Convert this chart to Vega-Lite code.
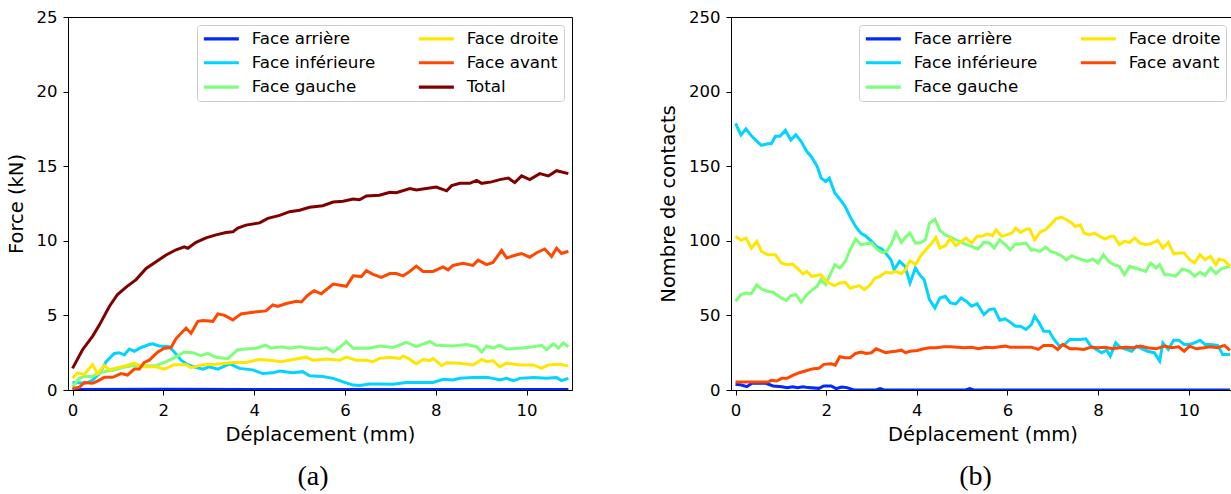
{
"$schema":"https://vega.github.io/schema/vega-lite/v6.json",
"padding":{"left":5,"top":8,"right":0,"bottom":0},
"spacing":85,
"resolve":{"scale":{"color":"independent"},"legend":{"color":"independent"}},
"config":{
 "font":"DejaVu Sans",
 "view":{"stroke":"black","strokeWidth":1},
 "axis":{"grid":false,"domainColor":"black","tickColor":"black","labelColor":"black","titleColor":"black","labelFont":"DejaVu Sans","titleFont":"DejaVu Sans","labelFontSize":16.5,"titleFontSize":19.5,"titleFontWeight":"normal","tickSize":5,"labelPadding":6},
 "axisX":{"labelPadding":7,"titlePadding":7},
 "axisY":{"titlePadding":10},
 "legend":{"orient":"top-right","offset":8,"columns":2,"labelFont":"DejaVu Sans","labelFontSize":16.7,"labelColor":"black","symbolType":"M-3.5,0H3.5","symbolSize":100,"symbolStrokeWidth":3.2,"symbolOffset":11,"strokeColor":"#cccccc","fillColor":"rgba(255,255,255,0.8)","cornerRadius":3,"padding":5,"rowPadding":6.4,"columnPadding":36,"labelOffset":22},
 "title":{"font":"Liberation Serif","fontSize":28,"fontWeight":"normal","color":"black","orient":"bottom","anchor":"middle","offset":19,"dx":-7}
},
"datasets":{
"force":[
{"s":"Face arrière","x":0,"y":0.03},{"s":"Face arrière","x":2,"y":0.05},{"s":"Face arrière","x":4,"y":0.03},{"s":"Face arrière","x":6,"y":0.03},{"s":"Face arrière","x":8,"y":0.03},{"s":"Face arrière","x":10.92,"y":0.03},
{"s":"Face inférieure","x":0,"y":0.5},{"s":"Face inférieure","x":0.29,"y":0.45},{"s":"Face inférieure","x":0.44,"y":0.65},{"s":"Face inférieure","x":0.59,"y":1.1},{"s":"Face inférieure","x":0.74,"y":1.9},{"s":"Face inférieure","x":0.92,"y":2.45},{"s":"Face inférieure","x":1.03,"y":2.5},{"s":"Face inférieure","x":1.14,"y":2.35},{"s":"Face inférieure","x":1.25,"y":2.75},{"s":"Face inférieure","x":1.36,"y":2.6},{"s":"Face inférieure","x":1.51,"y":2.85},{"s":"Face inférieure","x":1.69,"y":3.05},{"s":"Face inférieure","x":1.76,"y":3.1},{"s":"Face inférieure","x":1.91,"y":2.95},{"s":"Face inférieure","x":2.13,"y":2.9},{"s":"Face inférieure","x":2.24,"y":2.55},{"s":"Face inférieure","x":2.39,"y":2.0},{"s":"Face inférieure","x":2.54,"y":1.7},{"s":"Face inférieure","x":2.68,"y":1.55},{"s":"Face inférieure","x":2.87,"y":1.4},{"s":"Face inférieure","x":3.01,"y":1.55},{"s":"Face inférieure","x":3.2,"y":1.4},{"s":"Face inférieure","x":3.31,"y":1.55},{"s":"Face inférieure","x":3.46,"y":1.75},{"s":"Face inférieure","x":3.68,"y":1.45},{"s":"Face inférieure","x":3.97,"y":1.35},{"s":"Face inférieure","x":4.19,"y":1.1},{"s":"Face inférieure","x":4.41,"y":1.15},{"s":"Face inférieure","x":4.56,"y":1.27},{"s":"Face inférieure","x":4.85,"y":1.15},{"s":"Face inférieure","x":5.07,"y":1.23},{"s":"Face inférieure","x":5.22,"y":0.95},{"s":"Face inférieure","x":5.51,"y":0.9},{"s":"Face inférieure","x":5.74,"y":0.78},{"s":"Face inférieure","x":5.96,"y":0.55},{"s":"Face inférieure","x":6.18,"y":0.33},{"s":"Face inférieure","x":6.32,"y":0.3},{"s":"Face inférieure","x":6.54,"y":0.4},{"s":"Face inférieure","x":6.76,"y":0.4},{"s":"Face inférieure","x":7.06,"y":0.38},{"s":"Face inférieure","x":7.35,"y":0.5},{"s":"Face inférieure","x":7.65,"y":0.5},{"s":"Face inférieure","x":7.94,"y":0.5},{"s":"Face inférieure","x":8.16,"y":0.72},{"s":"Face inférieure","x":8.38,"y":0.67},{"s":"Face inférieure","x":8.53,"y":0.78},{"s":"Face inférieure","x":8.82,"y":0.83},{"s":"Face inférieure","x":9.12,"y":0.85},{"s":"Face inférieure","x":9.26,"y":0.78},{"s":"Face inférieure","x":9.41,"y":0.67},{"s":"Face inférieure","x":9.56,"y":0.78},{"s":"Face inférieure","x":9.71,"y":0.63},{"s":"Face inférieure","x":9.85,"y":0.78},{"s":"Face inférieure","x":10.15,"y":0.83},{"s":"Face inférieure","x":10.44,"y":0.78},{"s":"Face inférieure","x":10.66,"y":0.83},{"s":"Face inférieure","x":10.77,"y":0.63},{"s":"Face inférieure","x":10.92,"y":0.78},
{"s":"Face gauche","x":0,"y":0.2},{"s":"Face gauche","x":0.15,"y":0.8},{"s":"Face gauche","x":0.26,"y":0.9},{"s":"Face gauche","x":0.44,"y":0.9},{"s":"Face gauche","x":0.55,"y":1.1},{"s":"Face gauche","x":0.74,"y":1.25},{"s":"Face gauche","x":0.88,"y":1.3},{"s":"Face gauche","x":1.1,"y":1.5},{"s":"Face gauche","x":1.32,"y":1.63},{"s":"Face gauche","x":1.62,"y":1.63},{"s":"Face gauche","x":1.84,"y":1.63},{"s":"Face gauche","x":2.06,"y":1.9},{"s":"Face gauche","x":2.24,"y":2.15},{"s":"Face gauche","x":2.46,"y":2.55},{"s":"Face gauche","x":2.65,"y":2.5},{"s":"Face gauche","x":2.83,"y":2.3},{"s":"Face gauche","x":2.98,"y":2.45},{"s":"Face gauche","x":3.16,"y":2.2},{"s":"Face gauche","x":3.42,"y":2.1},{"s":"Face gauche","x":3.64,"y":2.7},{"s":"Face gauche","x":3.82,"y":2.75},{"s":"Face gauche","x":4.04,"y":2.8},{"s":"Face gauche","x":4.26,"y":3.0},{"s":"Face gauche","x":4.37,"y":2.8},{"s":"Face gauche","x":4.6,"y":2.9},{"s":"Face gauche","x":4.78,"y":2.8},{"s":"Face gauche","x":5.0,"y":2.9},{"s":"Face gauche","x":5.22,"y":2.8},{"s":"Face gauche","x":5.44,"y":2.75},{"s":"Face gauche","x":5.59,"y":2.85},{"s":"Face gauche","x":5.74,"y":2.55},{"s":"Face gauche","x":5.88,"y":2.85},{"s":"Face gauche","x":6.03,"y":3.25},{"s":"Face gauche","x":6.18,"y":2.8},{"s":"Face gauche","x":6.54,"y":2.8},{"s":"Face gauche","x":6.76,"y":2.95},{"s":"Face gauche","x":7.06,"y":2.85},{"s":"Face gauche","x":7.35,"y":3.2},{"s":"Face gauche","x":7.57,"y":2.9},{"s":"Face gauche","x":7.87,"y":3.25},{"s":"Face gauche","x":8.01,"y":3.0},{"s":"Face gauche","x":8.38,"y":2.95},{"s":"Face gauche","x":8.68,"y":3.05},{"s":"Face gauche","x":8.9,"y":2.9},{"s":"Face gauche","x":9.01,"y":2.55},{"s":"Face gauche","x":9.12,"y":2.95},{"s":"Face gauche","x":9.26,"y":2.8},{"s":"Face gauche","x":9.41,"y":3.0},{"s":"Face gauche","x":9.56,"y":2.75},{"s":"Face gauche","x":9.85,"y":2.8},{"s":"Face gauche","x":10.15,"y":2.9},{"s":"Face gauche","x":10.33,"y":3.0},{"s":"Face gauche","x":10.44,"y":2.7},{"s":"Face gauche","x":10.59,"y":3.1},{"s":"Face gauche","x":10.7,"y":2.8},{"s":"Face gauche","x":10.81,"y":3.15},{"s":"Face gauche","x":10.92,"y":2.9},
{"s":"Face droite","x":0,"y":0.8},{"s":"Face droite","x":0.11,"y":1.15},{"s":"Face droite","x":0.26,"y":1.05},{"s":"Face droite","x":0.44,"y":1.7},{"s":"Face droite","x":0.55,"y":1.1},{"s":"Face droite","x":0.7,"y":1.65},{"s":"Face droite","x":0.81,"y":1.35},{"s":"Face droite","x":0.99,"y":1.5},{"s":"Face droite","x":1.18,"y":1.63},{"s":"Face droite","x":1.36,"y":1.8},{"s":"Face droite","x":1.54,"y":1.55},{"s":"Face droite","x":1.84,"y":1.55},{"s":"Face droite","x":2.02,"y":1.4},{"s":"Face droite","x":2.24,"y":1.7},{"s":"Face droite","x":2.5,"y":1.7},{"s":"Face droite","x":2.61,"y":1.5},{"s":"Face droite","x":2.87,"y":1.7},{"s":"Face droite","x":3.16,"y":1.72},{"s":"Face droite","x":3.53,"y":1.85},{"s":"Face droite","x":3.82,"y":1.85},{"s":"Face droite","x":4.12,"y":2.05},{"s":"Face droite","x":4.34,"y":2.0},{"s":"Face droite","x":4.6,"y":1.9},{"s":"Face droite","x":4.85,"y":2.05},{"s":"Face droite","x":5.15,"y":2.2},{"s":"Face droite","x":5.29,"y":2.0},{"s":"Face droite","x":5.59,"y":2.07},{"s":"Face droite","x":5.88,"y":2.0},{"s":"Face droite","x":6.03,"y":2.2},{"s":"Face droite","x":6.25,"y":2.0},{"s":"Face droite","x":6.47,"y":2.0},{"s":"Face droite","x":6.62,"y":1.9},{"s":"Face droite","x":6.76,"y":2.12},{"s":"Face droite","x":6.99,"y":2.2},{"s":"Face droite","x":7.21,"y":2.12},{"s":"Face droite","x":7.28,"y":2.28},{"s":"Face droite","x":7.43,"y":2.05},{"s":"Face droite","x":7.57,"y":1.75},{"s":"Face droite","x":7.72,"y":2.05},{"s":"Face droite","x":7.87,"y":1.97},{"s":"Face droite","x":7.94,"y":2.12},{"s":"Face droite","x":8.13,"y":1.63},{"s":"Face droite","x":8.24,"y":1.83},{"s":"Face droite","x":8.53,"y":1.8},{"s":"Face droite","x":8.82,"y":1.68},{"s":"Face droite","x":9.01,"y":2.05},{"s":"Face droite","x":9.12,"y":1.9},{"s":"Face droite","x":9.26,"y":1.97},{"s":"Face droite","x":9.41,"y":1.55},{"s":"Face droite","x":9.56,"y":1.8},{"s":"Face droite","x":9.85,"y":1.68},{"s":"Face droite","x":10.15,"y":1.68},{"s":"Face droite","x":10.33,"y":1.45},{"s":"Face droite","x":10.48,"y":1.68},{"s":"Face droite","x":10.74,"y":1.72},{"s":"Face droite","x":10.92,"y":1.6},
{"s":"Face avant","x":0,"y":0.1},{"s":"Face avant","x":0.15,"y":0.18},{"s":"Face avant","x":0.26,"y":0.5},{"s":"Face avant","x":0.44,"y":0.45},{"s":"Face avant","x":0.55,"y":0.6},{"s":"Face avant","x":0.7,"y":0.85},{"s":"Face avant","x":0.88,"y":0.85},{"s":"Face avant","x":1.07,"y":1.1},{"s":"Face avant","x":1.21,"y":1.0},{"s":"Face avant","x":1.36,"y":1.4},{"s":"Face avant","x":1.47,"y":1.4},{"s":"Face avant","x":1.58,"y":1.85},{"s":"Face avant","x":1.69,"y":2.0},{"s":"Face avant","x":1.88,"y":2.55},{"s":"Face avant","x":2.02,"y":2.8},{"s":"Face avant","x":2.17,"y":2.85},{"s":"Face avant","x":2.28,"y":3.45},{"s":"Face avant","x":2.5,"y":4.15},{"s":"Face avant","x":2.61,"y":3.8},{"s":"Face avant","x":2.76,"y":4.6},{"s":"Face avant","x":2.87,"y":4.65},{"s":"Face avant","x":3.09,"y":4.6},{"s":"Face avant","x":3.2,"y":5.1},{"s":"Face avant","x":3.35,"y":5.0},{"s":"Face avant","x":3.53,"y":4.7},{"s":"Face avant","x":3.71,"y":5.1},{"s":"Face avant","x":3.93,"y":5.2},{"s":"Face avant","x":4.26,"y":5.3},{"s":"Face avant","x":4.41,"y":5.7},{"s":"Face avant","x":4.52,"y":5.6},{"s":"Face avant","x":4.71,"y":5.8},{"s":"Face avant","x":4.93,"y":5.95},{"s":"Face avant","x":5.04,"y":5.9},{"s":"Face avant","x":5.18,"y":6.35},{"s":"Face avant","x":5.32,"y":6.65},{"s":"Face avant","x":5.48,"y":6.45},{"s":"Face avant","x":5.74,"y":7.1},{"s":"Face avant","x":6.03,"y":6.95},{"s":"Face avant","x":6.18,"y":7.65},{"s":"Face avant","x":6.36,"y":7.6},{"s":"Face avant","x":6.47,"y":8.0},{"s":"Face avant","x":6.62,"y":7.75},{"s":"Face avant","x":6.8,"y":7.55},{"s":"Face avant","x":6.99,"y":7.8},{"s":"Face avant","x":7.13,"y":7.8},{"s":"Face avant","x":7.28,"y":7.65},{"s":"Face avant","x":7.43,"y":7.95},{"s":"Face avant","x":7.57,"y":8.3},{"s":"Face avant","x":7.72,"y":7.95},{"s":"Face avant","x":7.94,"y":7.95},{"s":"Face avant","x":8.16,"y":8.25},{"s":"Face avant","x":8.27,"y":8.05},{"s":"Face avant","x":8.38,"y":8.35},{"s":"Face avant","x":8.6,"y":8.5},{"s":"Face avant","x":8.82,"y":8.35},{"s":"Face avant","x":8.93,"y":8.7},{"s":"Face avant","x":9.12,"y":8.4},{"s":"Face avant","x":9.26,"y":8.55},{"s":"Face avant","x":9.45,"y":9.35},{"s":"Face avant","x":9.56,"y":8.85},{"s":"Face avant","x":9.71,"y":9.0},{"s":"Face avant","x":9.89,"y":9.15},{"s":"Face avant","x":10.07,"y":8.9},{"s":"Face avant","x":10.22,"y":9.2},{"s":"Face avant","x":10.4,"y":9.45},{"s":"Face avant","x":10.55,"y":8.95},{"s":"Face avant","x":10.66,"y":9.5},{"s":"Face avant","x":10.77,"y":9.15},{"s":"Face avant","x":10.92,"y":9.3},
{"s":"Total","x":0,"y":1.45},{"s":"Total","x":0.22,"y":2.7},{"s":"Total","x":0.44,"y":3.6},{"s":"Total","x":0.59,"y":4.35},{"s":"Total","x":0.81,"y":5.6},{"s":"Total","x":0.99,"y":6.4},{"s":"Total","x":1.18,"y":6.9},{"s":"Total","x":1.4,"y":7.4},{"s":"Total","x":1.62,"y":8.15},{"s":"Total","x":1.84,"y":8.6},{"s":"Total","x":2.06,"y":9.05},{"s":"Total","x":2.28,"y":9.4},{"s":"Total","x":2.46,"y":9.6},{"s":"Total","x":2.54,"y":9.5},{"s":"Total","x":2.72,"y":9.9},{"s":"Total","x":2.94,"y":10.2},{"s":"Total","x":3.16,"y":10.4},{"s":"Total","x":3.38,"y":10.55},{"s":"Total","x":3.53,"y":10.6},{"s":"Total","x":3.64,"y":10.85},{"s":"Total","x":3.82,"y":11.05},{"s":"Total","x":4.12,"y":11.2},{"s":"Total","x":4.3,"y":11.5},{"s":"Total","x":4.56,"y":11.7},{"s":"Total","x":4.78,"y":11.95},{"s":"Total","x":5.0,"y":12.05},{"s":"Total","x":5.22,"y":12.25},{"s":"Total","x":5.51,"y":12.35},{"s":"Total","x":5.74,"y":12.6},{"s":"Total","x":5.96,"y":12.65},{"s":"Total","x":6.18,"y":12.8},{"s":"Total","x":6.32,"y":12.75},{"s":"Total","x":6.47,"y":13.0},{"s":"Total","x":6.76,"y":13.05},{"s":"Total","x":6.99,"y":13.25},{"s":"Total","x":7.13,"y":13.22},{"s":"Total","x":7.43,"y":13.5},{"s":"Total","x":7.57,"y":13.4},{"s":"Total","x":7.79,"y":13.5},{"s":"Total","x":8.01,"y":13.6},{"s":"Total","x":8.24,"y":13.35},{"s":"Total","x":8.35,"y":13.7},{"s":"Total","x":8.53,"y":13.85},{"s":"Total","x":8.75,"y":13.85},{"s":"Total","x":8.9,"y":14.05},{"s":"Total","x":9.01,"y":13.85},{"s":"Total","x":9.23,"y":13.95},{"s":"Total","x":9.41,"y":14.1},{"s":"Total","x":9.6,"y":14.2},{"s":"Total","x":9.74,"y":13.9},{"s":"Total","x":9.89,"y":14.35},{"s":"Total","x":10.07,"y":14.1},{"s":"Total","x":10.29,"y":14.5},{"s":"Total","x":10.48,"y":14.35},{"s":"Total","x":10.66,"y":14.7},{"s":"Total","x":10.92,"y":14.5}
],
"contacts":[
{"s":"Face arrière","x":0,"y":3.8},{"s":"Face arrière","x":0.13,"y":3.3},{"s":"Face arrière","x":0.25,"y":2.2},{"s":"Face arrière","x":0.36,"y":4.5},{"s":"Face arrière","x":0.67,"y":4.5},{"s":"Face arrière","x":0.83,"y":2.7},{"s":"Face arrière","x":1.02,"y":2.2},{"s":"Face arrière","x":1.14,"y":1.6},{"s":"Face arrière","x":1.26,"y":2.2},{"s":"Face arrière","x":1.37,"y":1.6},{"s":"Face arrière","x":1.49,"y":2.2},{"s":"Face arrière","x":1.6,"y":1.6},{"s":"Face arrière","x":1.84,"y":1.1},{"s":"Face arrière","x":1.95,"y":2.7},{"s":"Face arrière","x":2.11,"y":2.7},{"s":"Face arrière","x":2.22,"y":0.9},{"s":"Face arrière","x":2.34,"y":2.0},{"s":"Face arrière","x":2.46,"y":1.6},{"s":"Face arrière","x":2.61,"y":0},{"s":"Face arrière","x":3.1,"y":0},{"s":"Face arrière","x":3.19,"y":1},{"s":"Face arrière","x":3.28,"y":0},{"s":"Face arrière","x":5.08,"y":0},{"s":"Face arrière","x":5.17,"y":1},{"s":"Face arrière","x":5.26,"y":0},{"s":"Face arrière","x":10.91,"y":0},
{"s":"Face inférieure","x":0,"y":178.7},{"s":"Face inférieure","x":0.12,"y":171},{"s":"Face inférieure","x":0.23,"y":175},{"s":"Face inférieure","x":0.36,"y":170},{"s":"Face inférieure","x":0.48,"y":166.5},{"s":"Face inférieure","x":0.57,"y":164},{"s":"Face inférieure","x":0.71,"y":165},{"s":"Face inférieure","x":0.79,"y":165},{"s":"Face inférieure","x":0.88,"y":170},{"s":"Face inférieure","x":0.98,"y":170},{"s":"Face inférieure","x":1.1,"y":174},{"s":"Face inférieure","x":1.22,"y":167.5},{"s":"Face inférieure","x":1.33,"y":171},{"s":"Face inférieure","x":1.45,"y":166.5},{"s":"Face inférieure","x":1.57,"y":160},{"s":"Face inférieure","x":1.68,"y":156},{"s":"Face inférieure","x":1.8,"y":150},{"s":"Face inférieure","x":1.89,"y":142},{"s":"Face inférieure","x":1.99,"y":139.7},{"s":"Face inférieure","x":2.07,"y":142},{"s":"Face inférieure","x":2.19,"y":132},{"s":"Face inférieure","x":2.3,"y":128},{"s":"Face inférieure","x":2.42,"y":123},{"s":"Face inférieure","x":2.53,"y":116},{"s":"Face inférieure","x":2.65,"y":109.6},{"s":"Face inférieure","x":2.77,"y":105},{"s":"Face inférieure","x":2.88,"y":103},{"s":"Face inférieure","x":3.0,"y":99.6},{"s":"Face inférieure","x":3.12,"y":96},{"s":"Face inférieure","x":3.23,"y":94.5},{"s":"Face inférieure","x":3.31,"y":91.8},{"s":"Face inférieure","x":3.43,"y":87.3},{"s":"Face inférieure","x":3.5,"y":80.7},{"s":"Face inférieure","x":3.62,"y":86.2},{"s":"Face inférieure","x":3.74,"y":82.9},{"s":"Face inférieure","x":3.85,"y":71.7},{"s":"Face inférieure","x":3.97,"y":81.8},{"s":"Face inférieure","x":4.06,"y":77.3},{"s":"Face inférieure","x":4.16,"y":74},{"s":"Face inférieure","x":4.28,"y":60.6},{"s":"Face inférieure","x":4.4,"y":55},{"s":"Face inférieure","x":4.51,"y":61.7},{"s":"Face inférieure","x":4.63,"y":62.8},{"s":"Face inférieure","x":4.74,"y":58.4},{"s":"Face inférieure","x":4.86,"y":57.7},{"s":"Face inférieure","x":4.98,"y":61.7},{"s":"Face inférieure","x":5.09,"y":59.5},{"s":"Face inférieure","x":5.21,"y":56.1},{"s":"Face inférieure","x":5.33,"y":57.9},{"s":"Face inférieure","x":5.48,"y":50.6},{"s":"Face inférieure","x":5.6,"y":53.9},{"s":"Face inférieure","x":5.71,"y":54.4},{"s":"Face inférieure","x":5.83,"y":46.8},{"s":"Face inférieure","x":5.95,"y":47.7},{"s":"Face inférieure","x":6.06,"y":45.5},{"s":"Face inférieure","x":6.18,"y":42.8},{"s":"Face inférieure","x":6.29,"y":42.8},{"s":"Face inférieure","x":6.41,"y":40.6},{"s":"Face inférieure","x":6.53,"y":43.9},{"s":"Face inférieure","x":6.6,"y":49.5},{"s":"Face inférieure","x":6.7,"y":45},{"s":"Face inférieure","x":6.8,"y":39.4},{"s":"Face inférieure","x":6.92,"y":39.4},{"s":"Face inférieure","x":7.03,"y":33.9},{"s":"Face inférieure","x":7.15,"y":29.4},{"s":"Face inférieure","x":7.26,"y":30.5},{"s":"Face inférieure","x":7.38,"y":33.9},{"s":"Face inférieure","x":7.5,"y":33.9},{"s":"Face inférieure","x":7.61,"y":33.9},{"s":"Face inférieure","x":7.73,"y":34.3},{"s":"Face inférieure","x":7.84,"y":29.4},{"s":"Face inférieure","x":7.96,"y":27.2},{"s":"Face inférieure","x":8.08,"y":25},{"s":"Face inférieure","x":8.19,"y":26.7},{"s":"Face inférieure","x":8.27,"y":22.7},{"s":"Face inférieure","x":8.39,"y":31.6},{"s":"Face inférieure","x":8.5,"y":28.3},{"s":"Face inférieure","x":8.62,"y":27.2},{"s":"Face inférieure","x":8.74,"y":26},{"s":"Face inférieure","x":8.85,"y":29.4},{"s":"Face inférieure","x":8.97,"y":27.6},{"s":"Face inférieure","x":9.09,"y":26},{"s":"Face inférieure","x":9.24,"y":25},{"s":"Face inférieure","x":9.36,"y":19.4},{"s":"Face inférieure","x":9.43,"y":31.6},{"s":"Face inférieure","x":9.55,"y":27.2},{"s":"Face inférieure","x":9.67,"y":33.4},{"s":"Face inférieure","x":9.78,"y":33.4},{"s":"Face inférieure","x":9.9,"y":30.5},{"s":"Face inférieure","x":10.02,"y":30.5},{"s":"Face inférieure","x":10.13,"y":31.6},{"s":"Face inférieure","x":10.25,"y":33.4},{"s":"Face inférieure","x":10.36,"y":30.5},{"s":"Face inférieure","x":10.48,"y":30.5},{"s":"Face inférieure","x":10.64,"y":29.9},{"s":"Face inférieure","x":10.75,"y":23.8},{"s":"Face inférieure","x":10.91,"y":23.8},
{"s":"Face gauche","x":0,"y":59.5},{"s":"Face gauche","x":0.12,"y":63.9},{"s":"Face gauche","x":0.23,"y":65},{"s":"Face gauche","x":0.35,"y":64.6},{"s":"Face gauche","x":0.47,"y":70.6},{"s":"Face gauche","x":0.57,"y":67.7},{"s":"Face gauche","x":0.7,"y":66.2},{"s":"Face gauche","x":0.83,"y":65.5},{"s":"Face gauche","x":0.98,"y":62.2},{"s":"Face gauche","x":1.12,"y":59.9},{"s":"Face gauche","x":1.22,"y":63.3},{"s":"Face gauche","x":1.33,"y":63.9},{"s":"Face gauche","x":1.45,"y":58.8},{"s":"Face gauche","x":1.57,"y":63.9},{"s":"Face gauche","x":1.68,"y":66.8},{"s":"Face gauche","x":1.8,"y":69.5},{"s":"Face gauche","x":1.88,"y":74},{"s":"Face gauche","x":1.99,"y":70.6},{"s":"Face gauche","x":2.07,"y":76.2},{"s":"Face gauche","x":2.19,"y":84},{"s":"Face gauche","x":2.3,"y":81.8},{"s":"Face gauche","x":2.42,"y":86.2},{"s":"Face gauche","x":2.53,"y":94},{"s":"Face gauche","x":2.65,"y":101.2},{"s":"Face gauche","x":2.77,"y":97.4},{"s":"Face gauche","x":2.88,"y":98},{"s":"Face gauche","x":3.0,"y":98.5},{"s":"Face gauche","x":3.12,"y":94.5},{"s":"Face gauche","x":3.23,"y":92.2},{"s":"Face gauche","x":3.33,"y":92.9},{"s":"Face gauche","x":3.43,"y":97.4},{"s":"Face gauche","x":3.54,"y":105.6},{"s":"Face gauche","x":3.66,"y":98.9},{"s":"Face gauche","x":3.75,"y":102.5},{"s":"Face gauche","x":3.85,"y":105.2},{"s":"Face gauche","x":3.97,"y":98.5},{"s":"Face gauche","x":4.09,"y":98.9},{"s":"Face gauche","x":4.19,"y":100.7},{"s":"Face gauche","x":4.28,"y":111.9},{"s":"Face gauche","x":4.4,"y":114.5},{"s":"Face gauche","x":4.51,"y":107},{"s":"Face gauche","x":4.63,"y":104},{"s":"Face gauche","x":4.74,"y":102.5},{"s":"Face gauche","x":4.86,"y":100.7},{"s":"Face gauche","x":4.98,"y":98.9},{"s":"Face gauche","x":5.09,"y":97.4},{"s":"Face gauche","x":5.21,"y":96.3},{"s":"Face gauche","x":5.35,"y":94.5},{"s":"Face gauche","x":5.48,"y":98.9},{"s":"Face gauche","x":5.6,"y":98.5},{"s":"Face gauche","x":5.71,"y":95.1},{"s":"Face gauche","x":5.83,"y":100.7},{"s":"Face gauche","x":5.95,"y":97.4},{"s":"Face gauche","x":6.06,"y":94},{"s":"Face gauche","x":6.18,"y":98},{"s":"Face gauche","x":6.29,"y":97.8},{"s":"Face gauche","x":6.41,"y":98.5},{"s":"Face gauche","x":6.53,"y":93.6},{"s":"Face gauche","x":6.6,"y":94},{"s":"Face gauche","x":6.72,"y":92.9},{"s":"Face gauche","x":6.84,"y":95.8},{"s":"Face gauche","x":6.95,"y":92.9},{"s":"Face gauche","x":7.07,"y":91.8},{"s":"Face gauche","x":7.19,"y":90},{"s":"Face gauche","x":7.3,"y":87.3},{"s":"Face gauche","x":7.42,"y":90},{"s":"Face gauche","x":7.53,"y":88.5},{"s":"Face gauche","x":7.65,"y":87.3},{"s":"Face gauche","x":7.77,"y":86.2},{"s":"Face gauche","x":7.88,"y":87.8},{"s":"Face gauche","x":8.0,"y":85.1},{"s":"Face gauche","x":8.12,"y":90.7},{"s":"Face gauche","x":8.23,"y":86.2},{"s":"Face gauche","x":8.35,"y":84},{"s":"Face gauche","x":8.47,"y":82.9},{"s":"Face gauche","x":8.58,"y":77.3},{"s":"Face gauche","x":8.7,"y":82.9},{"s":"Face gauche","x":8.81,"y":81.8},{"s":"Face gauche","x":8.93,"y":80.7},{"s":"Face gauche","x":9.05,"y":79.5},{"s":"Face gauche","x":9.16,"y":85.1},{"s":"Face gauche","x":9.28,"y":81.8},{"s":"Face gauche","x":9.36,"y":84},{"s":"Face gauche","x":9.47,"y":77.3},{"s":"Face gauche","x":9.59,"y":77.3},{"s":"Face gauche","x":9.71,"y":76.2},{"s":"Face gauche","x":9.86,"y":81.1},{"s":"Face gauche","x":10.02,"y":79.5},{"s":"Face gauche","x":10.13,"y":76.2},{"s":"Face gauche","x":10.25,"y":78.9},{"s":"Face gauche","x":10.36,"y":76.7},{"s":"Face gauche","x":10.48,"y":81.8},{"s":"Face gauche","x":10.6,"y":78},{"s":"Face gauche","x":10.71,"y":81.1},{"s":"Face gauche","x":10.91,"y":82.9},
{"s":"Face droite","x":0,"y":103},{"s":"Face droite","x":0.12,"y":100.3},{"s":"Face droite","x":0.23,"y":101.8},{"s":"Face droite","x":0.35,"y":95},{"s":"Face droite","x":0.47,"y":99.6},{"s":"Face droite","x":0.57,"y":93},{"s":"Face droite","x":0.71,"y":90.7},{"s":"Face droite","x":0.88,"y":90.7},{"s":"Face droite","x":1.01,"y":85.1},{"s":"Face droite","x":1.14,"y":84},{"s":"Face droite","x":1.26,"y":84.4},{"s":"Face droite","x":1.37,"y":81.3},{"s":"Face droite","x":1.49,"y":77.8},{"s":"Face droite","x":1.57,"y":79.5},{"s":"Face droite","x":1.68,"y":76.2},{"s":"Face droite","x":1.88,"y":77.3},{"s":"Face droite","x":2.03,"y":72.2},{"s":"Face droite","x":2.19,"y":70},{"s":"Face droite","x":2.3,"y":71.7},{"s":"Face droite","x":2.42,"y":72.2},{"s":"Face droite","x":2.53,"y":68.2},{"s":"Face droite","x":2.73,"y":70},{"s":"Face droite","x":2.84,"y":67.3},{"s":"Face droite","x":2.96,"y":70},{"s":"Face droite","x":3.08,"y":75.1},{"s":"Face droite","x":3.19,"y":76.2},{"s":"Face droite","x":3.31,"y":78.9},{"s":"Face droite","x":3.43,"y":78.4},{"s":"Face droite","x":3.54,"y":79.5},{"s":"Face droite","x":3.66,"y":78},{"s":"Face droite","x":3.75,"y":80.7},{"s":"Face droite","x":3.85,"y":86.7},{"s":"Face droite","x":3.97,"y":84},{"s":"Face droite","x":4.09,"y":90},{"s":"Face droite","x":4.2,"y":94},{"s":"Face droite","x":4.32,"y":98},{"s":"Face droite","x":4.42,"y":102.3},{"s":"Face droite","x":4.51,"y":95.1},{"s":"Face droite","x":4.63,"y":96.7},{"s":"Face droite","x":4.74,"y":101.6},{"s":"Face droite","x":4.86,"y":96.7},{"s":"Face droite","x":4.98,"y":99.6},{"s":"Face droite","x":5.09,"y":101.8},{"s":"Face droite","x":5.21,"y":98.5},{"s":"Face droite","x":5.33,"y":103},{"s":"Face droite","x":5.44,"y":103},{"s":"Face droite","x":5.56,"y":104.7},{"s":"Face droite","x":5.67,"y":103.4},{"s":"Face droite","x":5.75,"y":107.4},{"s":"Face droite","x":5.87,"y":103},{"s":"Face droite","x":5.98,"y":104},{"s":"Face droite","x":6.1,"y":105.2},{"s":"Face droite","x":6.18,"y":108.5},{"s":"Face droite","x":6.29,"y":105.6},{"s":"Face droite","x":6.41,"y":107.8},{"s":"Face droite","x":6.49,"y":108},{"s":"Face droite","x":6.6,"y":100.7},{"s":"Face droite","x":6.72,"y":105.8},{"s":"Face droite","x":6.84,"y":107.4},{"s":"Face droite","x":6.95,"y":110.7},{"s":"Face droite","x":7.07,"y":114.7},{"s":"Face droite","x":7.19,"y":115.9},{"s":"Face droite","x":7.3,"y":114.1},{"s":"Face droite","x":7.42,"y":111.9},{"s":"Face droite","x":7.5,"y":109.6},{"s":"Face droite","x":7.61,"y":110.7},{"s":"Face droite","x":7.69,"y":105.2},{"s":"Face droite","x":7.81,"y":104},{"s":"Face droite","x":7.92,"y":105.2},{"s":"Face droite","x":8.04,"y":103},{"s":"Face droite","x":8.16,"y":101.2},{"s":"Face droite","x":8.27,"y":103},{"s":"Face droite","x":8.35,"y":103},{"s":"Face droite","x":8.47,"y":97.4},{"s":"Face droite","x":8.58,"y":99.6},{"s":"Face droite","x":8.7,"y":98.9},{"s":"Face droite","x":8.81,"y":101.8},{"s":"Face droite","x":8.93,"y":98.5},{"s":"Face droite","x":9.05,"y":97.4},{"s":"Face droite","x":9.16,"y":98},{"s":"Face droite","x":9.32,"y":100.3},{"s":"Face droite","x":9.43,"y":95.1},{"s":"Face droite","x":9.55,"y":98.9},{"s":"Face droite","x":9.67,"y":91.3},{"s":"Face droite","x":9.78,"y":91.8},{"s":"Face droite","x":9.9,"y":91.8},{"s":"Face droite","x":10.02,"y":87.3},{"s":"Face droite","x":10.13,"y":85.1},{"s":"Face droite","x":10.25,"y":90.7},{"s":"Face droite","x":10.36,"y":87.3},{"s":"Face droite","x":10.48,"y":89.6},{"s":"Face droite","x":10.6,"y":84},{"s":"Face droite","x":10.67,"y":87.8},{"s":"Face droite","x":10.79,"y":86.7},{"s":"Face droite","x":10.91,"y":82.9},
{"s":"Face avant","x":0,"y":5.3},{"s":"Face avant","x":0.35,"y":5.3},{"s":"Face avant","x":0.71,"y":5.3},{"s":"Face avant","x":0.79,"y":6.5},{"s":"Face avant","x":0.91,"y":6},{"s":"Face avant","x":1.02,"y":7.8},{"s":"Face avant","x":1.14,"y":7.8},{"s":"Face avant","x":1.26,"y":9.8},{"s":"Face avant","x":1.41,"y":11.6},{"s":"Face avant","x":1.57,"y":13.1},{"s":"Face avant","x":1.72,"y":14.3},{"s":"Face avant","x":1.84,"y":14.5},{"s":"Face avant","x":1.95,"y":17.2},{"s":"Face avant","x":2.11,"y":17.6},{"s":"Face avant","x":2.2,"y":16.7},{"s":"Face avant","x":2.3,"y":22.3},{"s":"Face avant","x":2.42,"y":21.6},{"s":"Face avant","x":2.53,"y":21.6},{"s":"Face avant","x":2.65,"y":24.5},{"s":"Face avant","x":2.77,"y":25.4},{"s":"Face avant","x":2.88,"y":24.5},{"s":"Face avant","x":3.0,"y":25},{"s":"Face avant","x":3.1,"y":27.6},{"s":"Face avant","x":3.19,"y":26.5},{"s":"Face avant","x":3.31,"y":25},{"s":"Face avant","x":3.43,"y":25.6},{"s":"Face avant","x":3.54,"y":26},{"s":"Face avant","x":3.66,"y":26.7},{"s":"Face avant","x":3.75,"y":25},{"s":"Face avant","x":3.85,"y":26},{"s":"Face avant","x":4.01,"y":26.5},{"s":"Face avant","x":4.16,"y":27.6},{"s":"Face avant","x":4.28,"y":28.3},{"s":"Face avant","x":4.43,"y":28.3},{"s":"Face avant","x":4.59,"y":29},{"s":"Face avant","x":4.74,"y":29},{"s":"Face avant","x":4.9,"y":28.7},{"s":"Face avant","x":5.05,"y":28.3},{"s":"Face avant","x":5.21,"y":28.7},{"s":"Face avant","x":5.36,"y":27.6},{"s":"Face avant","x":5.52,"y":28.7},{"s":"Face avant","x":5.67,"y":28.3},{"s":"Face avant","x":5.83,"y":29},{"s":"Face avant","x":5.95,"y":29.4},{"s":"Face avant","x":6.06,"y":28.7},{"s":"Face avant","x":6.29,"y":28.7},{"s":"Face avant","x":6.53,"y":28.7},{"s":"Face avant","x":6.68,"y":27.2},{"s":"Face avant","x":6.8,"y":29.9},{"s":"Face avant","x":6.99,"y":29.9},{"s":"Face avant","x":7.11,"y":27.2},{"s":"Face avant","x":7.22,"y":30.5},{"s":"Face avant","x":7.38,"y":27.6},{"s":"Face avant","x":7.53,"y":27.6},{"s":"Face avant","x":7.69,"y":27.2},{"s":"Face avant","x":7.84,"y":28.7},{"s":"Face avant","x":8.0,"y":28.3},{"s":"Face avant","x":8.16,"y":28.7},{"s":"Face avant","x":8.31,"y":27.6},{"s":"Face avant","x":8.47,"y":28.3},{"s":"Face avant","x":8.62,"y":28.7},{"s":"Face avant","x":8.78,"y":28.3},{"s":"Face avant","x":8.93,"y":29.4},{"s":"Face avant","x":9.09,"y":28.3},{"s":"Face avant","x":9.28,"y":27.6},{"s":"Face avant","x":9.47,"y":29.4},{"s":"Face avant","x":9.63,"y":28.3},{"s":"Face avant","x":9.78,"y":29},{"s":"Face avant","x":9.9,"y":26},{"s":"Face avant","x":10.02,"y":29.4},{"s":"Face avant","x":10.17,"y":27.6},{"s":"Face avant","x":10.33,"y":28.3},{"s":"Face avant","x":10.48,"y":29},{"s":"Face avant","x":10.64,"y":28.3},{"s":"Face avant","x":10.79,"y":29.9},{"s":"Face avant","x":10.91,"y":26.5}
]
},
"hconcat":[
{
 "width":504,"height":373,
 "data":{"name":"force"},
 "title":{"text":"(a)"},
 "mark":{"type":"line","strokeWidth":3,"clip":true},
 "encoding":{
  "x":{"field":"x","type":"quantitative","scale":{"domain":[-0.1,11.0],"nice":false,"zero":false},"axis":{"title":"Déplacement (mm)","values":[0,2,4,6,8,10]}},
  "y":{"field":"y","type":"quantitative","scale":{"domain":[0,25],"nice":false},"axis":{"title":"Force (kN)","values":[0,5,10,15,20,25]}},
  "color":{"field":"s","type":"nominal","scale":{"domain":["Face arrière","Face inférieure","Face gauche","Face droite","Face avant","Total"],"range":["#0028ff","#00d4ff","#7dff7a","#ffe600","#ff4700","#800000"]},"legend":{"title":null}}
 }
},
{
 "width":503,"height":373,
 "data":{"name":"contacts"},
 "title":{"text":"(b)"},
 "mark":{"type":"line","strokeWidth":3,"clip":true},
 "encoding":{
  "x":{"field":"x","type":"quantitative","scale":{"domain":[-0.1,11.0],"nice":false,"zero":false},"axis":{"title":"Déplacement (mm)","values":[0,2,4,6,8,10]}},
  "y":{"field":"y","type":"quantitative","scale":{"domain":[0,250],"nice":false},"axis":{"title":"Nombre de contacts","values":[0,50,100,150,200,250]}},
  "color":{"field":"s","type":"nominal","scale":{"domain":["Face arrière","Face inférieure","Face gauche","Face droite","Face avant"],"range":["#0028ff","#00d4ff","#7dff7a","#ffe600","#ff4700"]},"legend":{"title":null}}
 }
}
]
}
